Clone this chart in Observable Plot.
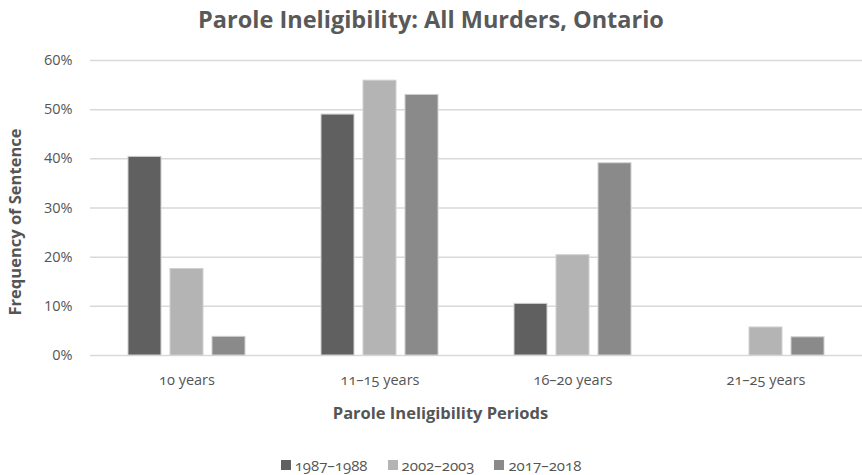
<!DOCTYPE html>
<html><head><meta charset="utf-8">
<script src="https://cdn.jsdelivr.net/npm/d3@7"></script>
<script src="https://cdn.jsdelivr.net/npm/@observablehq/plot@0.6"></script>
<style>
body{margin:0;background:#fff;font-family:"Open Sans",sans-serif;color:#555;font-variant-numeric:oldstyle-nums;}
#title{height:40px;line-height:38px;text-align:center;font-size:23.5px;font-weight:700;color:#595959;}
#legend{display:flex;justify-content:center;align-items:center;padding-top:15px;height:20px;font-size:15px;color:#555;}
.item{display:flex;align-items:center;margin:0 10px;}
.sw{width:10px;height:10px;margin-right:4px;}
</style></head><body>
<div id="title">Parole Ineligibility: All Murders, Ontario</div>
<div id="chart"></div>
<div id="legend"></div>
<script>
const categories = ["10 years", "11–15 years", "16–20 years", "21–25 years"];
const series = ["1987–1988", "2002–2003", "2017–2018"];
const v1987 = [40.4, 49.0, 10.5, 0];
const v2002 = [17.6, 55.9, 20.4, 5.7];
const v2017 = [3.8, 53.0, 39.1, 3.7];
const yTicks = [0, 10, 20, 30, 40, 50, 60];
const colors = ["#606060", "#b4b4b4", "#8a8a8a"];

const values = [v1987, v2002, v2017];
const data = categories.flatMap((c, i) => series.map((s, j) => ({category: c, series: s, value: values[j][i]})));

const plot = Plot.plot({
  width: 862, height: 400,
  marginTop: 20, marginLeft: 90, marginRight: 0, marginBottom: 85,
  style: {fontFamily: "Open Sans", fontSize: "14.5px", color: "#555", background: "white", fontVariantNumeric: "oldstyle-nums"},
  fx: {domain: categories, padding: 0},
  x: {domain: series, paddingInner: 0.21, paddingOuter: 0.85, axis: null},
  y: {domain: [0, 60]},
  color: {domain: series, range: colors},
  marks: [
    Plot.gridY(yTicks, {stroke: "#d9d9d9", strokeOpacity: 1, strokeWidth: 1.5}),
    Plot.axisY(yTicks, {tickSize: 0, tickPadding: 18, tickFormat: d => d + "%", label: "Frequency of Sentence", labelAnchor: "center", labelOffset: 81}),
    Plot.axisFx({anchor: "bottom", tickSize: 0, tickPadding: 19, label: "Parole Ineligibility Periods", labelAnchor: "center", labelOffset: 63}),
    Plot.barY(data.filter(d => d.value > 0), {fx: "category", x: "series", y: "value", fill: "series", stroke: "#d0d0d0", strokeWidth: 1})
  ]
});
const svg = d3.select(plot);
svg.selectAll('g[aria-label$="axis label"] text')
  .attr("font-weight", "700").attr("font-size", 16.5).attr("fill", "#555")
  .each(function() { this.textContent = this.textContent.replace(/[↑→←↓]/g, "").trim(); });
svg.selectAll('g[aria-label="y-axis label"]')
  .attr("transform", function() { return (this.getAttribute("transform") || "") + " translate(0,14)"; });
svg.selectAll('g[aria-label="fx-axis label"]')
  .attr("transform", function() { return (this.getAttribute("transform") || "") + " translate(-36,0)"; });
document.getElementById("chart").appendChild(plot);

const lg = d3.select("#legend").selectAll(".item").data(series).join("div").attr("class", "item");
lg.append("div").attr("class", "sw").style("background", (d, i) => colors[i]);
lg.append("span").text(d => d);
</script>
</body></html>
